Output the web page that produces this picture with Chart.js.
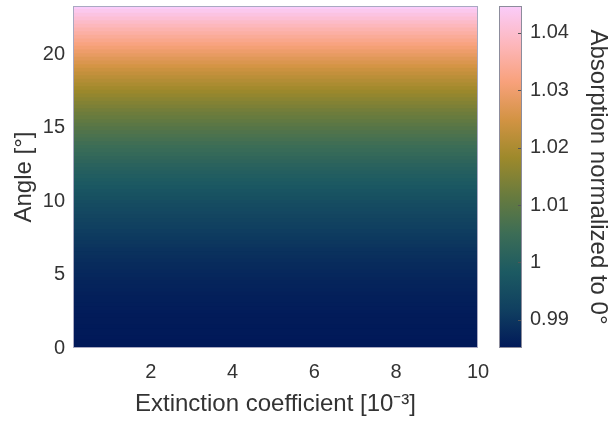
<!DOCTYPE html>
<html>
<head>
<meta charset="utf-8">
<script src="https://cdn.jsdelivr.net/npm/chart.js@4/dist/chart.umd.min.js"></script>
<style>
  html, body { margin: 0; padding: 0; background: #fff; overflow: hidden; }
  #wrap { position: relative; width: 610px; height: 424px; }
  #chartMap { position: absolute; left: 0; top: 0; }
  #chartBar { position: absolute; left: 430px; top: 0; }
</style>
</head>
<body>
<div id="wrap">
  <canvas id="chartMap" width="610" height="424"></canvas>
  <canvas id="chartBar" width="180" height="424"></canvas>
</div>
<script>
'use strict';

// ── Data ──────────────────────────────────────────────────────────────────────

// extinction coefficient range covered by the map [10^-3]
const extinction = [0.1, 10];

// angle rows [°] and normalised absorption
const angles = [
  0, 0.25, 0.5, 0.75, 1, 1.25, 1.5, 1.75, 2, 2.25, 2.5, 2.75,
  3, 3.25, 3.5, 3.75, 4, 4.25, 4.5, 4.75, 5, 5.25, 5.5, 5.75,
  6, 6.25, 6.5, 6.75, 7, 7.25, 7.5, 7.75, 8, 8.25, 8.5, 8.75,
  9, 9.25, 9.5, 9.75, 10, 10.25, 10.5, 10.75, 11, 11.25, 11.5, 11.75,
  12, 12.25, 12.5, 12.75, 13, 13.25, 13.5, 13.75, 14, 14.25, 14.5, 14.75,
  15, 15.25, 15.5, 15.75, 16, 16.25, 16.5, 16.75, 17, 17.25, 17.5, 17.75,
  18, 18.25, 18.5, 18.75, 19, 19.25, 19.5, 19.75, 20, 20.25, 20.5, 20.75,
  21, 21.25, 21.5, 21.75, 22, 22.25, 22.5, 22.75, 23, 23.25,
];
const absorption = [
  0.9851, 0.9851, 0.9851, 0.9851, 0.9852, 0.9852, 0.9853, 0.9854, 0.9854, 0.9855, 0.9857, 0.9858,
  0.9859, 0.9861, 0.9862, 0.9864, 0.9866, 0.9868, 0.9870, 0.9872, 0.9875, 0.9877, 0.9880, 0.9883,
  0.9886, 0.9889, 0.9892, 0.9895, 0.9899, 0.9903, 0.9906, 0.9910, 0.9914, 0.9919, 0.9923, 0.9927,
  0.9932, 0.9937, 0.9942, 0.9947, 0.9952, 0.9958, 0.9963, 0.9969, 0.9975, 0.9981, 0.9987, 0.9993,
  0.9999, 1.0006, 1.0013, 1.0020, 1.0027, 1.0034, 1.0041, 1.0048, 1.0056, 1.0064, 1.0072, 1.0080,
  1.0088, 1.0096, 1.0105, 1.0114, 1.0122, 1.0131, 1.0141, 1.0150, 1.0159, 1.0169, 1.0179, 1.0189,
  1.0199, 1.0209, 1.0219, 1.0230, 1.0240, 1.0251, 1.0262, 1.0273, 1.0285, 1.0296, 1.0308, 1.0320,
  1.0332, 1.0344, 1.0356, 1.0368, 1.0381, 1.0394, 1.0407, 1.0420, 1.0433, 1.0446,
];

const angleMax = 23.3;
const xTicks = [2, 4, 6, 8, 10];
const yTicks = [0, 5, 10, 15, 20];
const cbarTicks = [0.99, 1, 1.01, 1.02, 1.03, 1.04];
const cbarLimits = [0.9851, 1.0447];

// ── Colormap (batlow) ─────────────────────────────────────────────────────────

const CMAP = ['#011959', '#103F60', '#1C5A62', '#3C6D56', '#687B3E',
              '#9D892B', '#D29343', '#F8A17B', '#FDB7BC', '#FACCFA'];
const CMAP_RGB = CMAP.map(h => [1, 3, 5].map(i => parseInt(h.slice(i, i + 2), 16)));

function colorFor(v) {
  let t = (v - cbarLimits[0]) / (cbarLimits[1] - cbarLimits[0]);
  t = Math.min(1, Math.max(0, t)) * (CMAP_RGB.length - 1);
  const i = Math.min(CMAP_RGB.length - 2, Math.floor(t));
  const f = t - i;
  const a = CMAP_RGB[i], b = CMAP_RGB[i + 1];
  const c = a.map((x, k) => Math.round(x + (b[k] - x) * f));
  return `rgb(${c[0]},${c[1]},${c[2]})`;
}

// ── Defaults ──────────────────────────────────────────────────────────────────

Chart.defaults.font.family = "'Liberation Sans', Arial, sans-serif";
Chart.defaults.color = '#333333';

const TICK_FONT  = { size: 20 };
const TITLE_FONT = { size: 24 };

// no extra room for half tick labels at the ends of the axes
const noEndPadding = s => {
  s.paddingTop = 0; s.paddingBottom = 0; s.paddingLeft = 0; s.paddingRight = 0;
};

const frame = color => ({
  id: 'frame',
  afterDatasetsDraw(chart) {
    const { ctx, chartArea: a } = chart;
    ctx.save();
    ctx.strokeStyle = color;
    ctx.lineWidth = 1;
    ctx.strokeRect(a.left + 0.5, a.top + 0.5, a.right - a.left - 1, a.bottom - a.top - 1);
    ctx.restore();
  },
});

// ── 1. Absorption map ─────────────────────────────────────────────────────────

new Chart(document.getElementById('chartMap'), {
  type: 'bar',
  data: {
    datasets: [{
      data: angles.map(a => ({ y: a, x: extinction.slice() })),
      backgroundColor: absorption.map(colorFor),
      borderWidth: 0,
      inflateAmount: 0,
      barPercentage: 1.3,
      categoryPercentage: 1,
      clip: 0,
    }],
  },
  options: {
    indexAxis: 'y',
    responsive: false,
    animation: false,
    events: [],
    layout: { padding: { left: 0, top: 6, right: 132, bottom: 0 } },
    plugins: { legend: { display: false }, tooltip: { enabled: false } },
    scales: {
      x: {
        type: 'linear',
        min: extinction[0],
        max: extinction[1],
        grid: { display: false, drawTicks: false },
        border: { display: false },
        afterBuildTicks: s => { s.ticks = xTicks.map(v => ({ value: v })); },
        afterFit: s => { s.height = 76; noEndPadding(s); },
        ticks: { font: TICK_FONT, padding: 12, maxRotation: 0 },
        title: {
          display: true,
          text: 'Extinction coefficient [10\u207B\u00B3]',
          font: TITLE_FONT,
          padding: { top: 0, bottom: 5 },
        },
      },
      y: {
        type: 'linear',
        min: 0,
        max: angleMax,
        offset: false,
        grid: { display: false, drawTicks: false, offset: false },
        border: { display: false },
        afterBuildTicks: s => { s.ticks = yTicks.map(v => ({ value: v })); },
        afterFit: s => { s.width = 73; noEndPadding(s); },
        ticks: { font: TICK_FONT, padding: 8 },
        title: {
          display: true,
          text: 'Angle [°]',
          font: TITLE_FONT,
          padding: { top: 10, bottom: 0 },
        },
      },
    },
  },
  plugins: [frame('#a9a9c2')],
});

// ── 2. Colorbar ───────────────────────────────────────────────────────────────

const cbarTickMarks = {
  id: 'cbarTickMarks',
  afterDatasetsDraw(chart) {
    const { ctx, chartArea: a } = chart;
    const y = chart.scales.y;
    ctx.save();
    ctx.strokeStyle = '#555';
    ctx.lineWidth = 1;
    cbarTicks.forEach(v => {
      const py = Math.round(y.getPixelForValue(v)) + 0.5;
      ctx.beginPath();
      ctx.moveTo(a.right - 4, py);
      ctx.lineTo(a.right, py);
      ctx.stroke();
    });
    ctx.restore();
  },
};

new Chart(document.getElementById('chartBar'), {
  type: 'bar',
  data: {
    labels: [''],
    datasets: [{
      data: [cbarLimits.slice()],
      backgroundColor: ctx => {
        const chart = ctx.chart;
        const y = chart.scales.y;
        if (!chart.chartArea || !y) return CMAP[0];
        const g = chart.ctx.createLinearGradient(0, y.getPixelForValue(cbarLimits[0]), 0, y.getPixelForValue(cbarLimits[1]));
        CMAP.forEach((c, i) => g.addColorStop(i / (CMAP.length - 1), c));
        return g;
      },
      borderWidth: 0,
      inflateAmount: 0,
      barPercentage: 1,
      categoryPercentage: 1,
      clip: 0,
    }],
  },
  options: {
    responsive: false,
    animation: false,
    events: [],
    layout: { padding: { left: 69, top: 6, right: 0, bottom: 76 } },
    plugins: { legend: { display: false }, tooltip: { enabled: false } },
    scales: {
      x: { display: false },
      y: {
        position: 'right',
        min: cbarLimits[0],
        max: cbarLimits[1],
        grid: { display: false, drawTicks: false },
        border: { display: false },
        afterBuildTicks: s => { s.ticks = cbarTicks.map(v => ({ value: v })); },
        afterFit: s => { s.width = 88; noEndPadding(s); },
        ticks: { font: TICK_FONT, padding: 8, callback: v => String(+v.toFixed(2)) },
        title: {
          display: true,
          text: 'Absorption normalized to 0°',
          font: { size: 24, lineHeight: 1 },
          padding: { top: 0, bottom: 0 },
        },
      },
    },
  },
  plugins: [cbarTickMarks, frame('#8c8c9c')],
});
</script>
</body>
</html>
